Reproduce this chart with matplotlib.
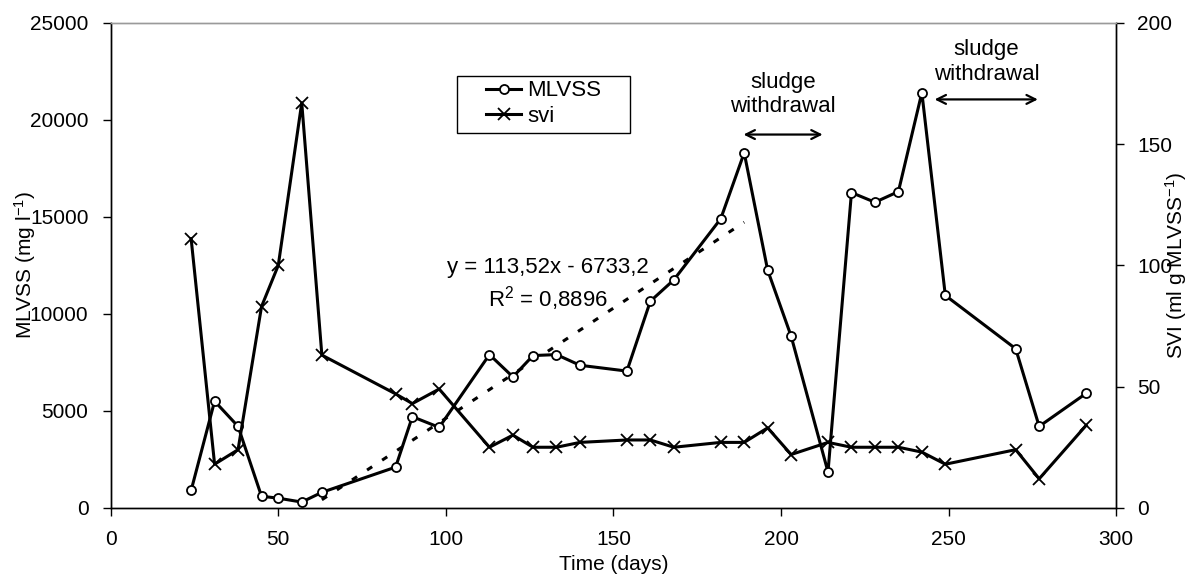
import matplotlib
matplotlib.use("Agg")
import matplotlib.pyplot as plt
from matplotlib.patches import Rectangle

plt.rcParams['font.family'] = ['Liberation Sans', 'DejaVu Sans']
plt.rcParams['mathtext.default'] = 'regular'

# ---------------- data ----------------
days = [24, 31, 38, 45, 50, 57, 63, 85, 90, 98, 113, 120, 126, 133, 140, 154,
        161, 168, 182, 189, 196, 203, 214, 221, 228, 235, 242, 249, 270, 277, 291]
mlvss = [900, 5500, 4200, 600, 500, 300, 800, 2100, 4700, 4150, 7900, 6750,
         7850, 7900, 7350, 7050, 10650, 11750, 14900, 18300, 12250, 8850, 1850,
         16250, 15750, 16300, 21400, 10950, 8200, 4200, 5900]
svi = [111, 18, 24, 83, 100, 167, 63, 47, 43, 49, 25, 30, 25, 25, 27, 28, 28,
       25, 27, 27, 33, 22, 27, 25, 25, 25, 23, 18, 24, 12, 34]

trend_slope = 113.52
trend_intercept = -6733.2
trend_x = [63, 189]
trend_label = "y = 113,52x - 6733,2"
r2_label = "R$^2$ = 0,8896"

x_ticks = [0, 50, 100, 150, 200, 250, 300]
left_ticks = [0, 5000, 10000, 15000, 20000, 25000]
right_ticks = [0, 50, 100, 150, 200]

withdrawal_1 = (188.8, 212.4)
withdrawal_2 = (245.8, 276.6)

# ---------------- figure ----------------
fig = plt.figure(figsize=(11.94, 5.78), dpi=100)
ax = fig.add_axes([0.0927, 0.1213, 0.9349 - 0.0927, 0.9606 - 0.1213])
ax2 = ax.twinx()

FS = 15
FS_T = 16
lw = 2.2

l1, = ax.plot(days, mlvss, color='black', lw=lw, marker='o', ms=6.5,
              mfc='white', mec='black', mew=1.3, label='MLVSS', zorder=3)
l2, = ax2.plot(days, svi, color='black', lw=lw, marker='x', ms=8,
               mec='black', mew=1.3, label='svi', zorder=3)

ty = [trend_slope * x + trend_intercept for x in trend_x]
ax.plot(trend_x, ty, color='black', lw=2.2, linestyle=(0, (2.0, 3.9)), zorder=2)

ax.set_xlim(0, 300)
ax.set_ylim(0, 25000)
ax2.set_ylim(0, 200)
ax.set_xticks(x_ticks)
ax.set_yticks(left_ticks)
ax2.set_yticks(right_ticks)

for a in (ax, ax2):
    for s in a.spines.values():
        s.set_linewidth(1.0)
ax.spines['top'].set_color('#9a9a9a')
ax2.spines['top'].set_color('#9a9a9a')
ax.spines['left'].set_color('black')
ax.spines['bottom'].set_color('black')
ax2.spines['right'].set_color('black')

ax.tick_params(axis='both', direction='out', length=6, width=1.0,
               labelsize=FS, colors='black')
ax.tick_params(axis='x', pad=10)
ax.tick_params(axis='y', pad=10)
ax2.tick_params(axis='y', direction='out', length=6, width=1.0,
                labelsize=FS, pad=9)

ax.set_xlabel("Time (days)", fontsize=FS)
ax.xaxis.set_label_coords(0.5, -0.116)
ax.xaxis.label.set_va('center')
ax.set_ylabel("MLVSS (mg l$^{-1}$)", fontsize=FS)
ax.yaxis.set_label_coords(-0.0852, 0.5)
ax.yaxis.label.set_va('center')
ax2.set_ylabel("SVI (ml g MLVSS$^{-1}$)", fontsize=FS)
ax2.yaxis.set_label_coords(1.0596, 0.5)
ax2.yaxis.label.set_va('center')

ax.text(130.5, 12400, trend_label, fontsize=FS_T, ha='center', va='center')
ax.text(130.5, 10780, r2_label, fontsize=FS_T, ha='center', va='center')

# sludge withdrawal annotations
ax.text(sum(withdrawal_1) / 2, 21900, "sludge", fontsize=FS_T, ha='center', va='center')
ax.text(sum(withdrawal_1) / 2, 20700, "withdrawal", fontsize=FS_T, ha='center', va='center')
ax.annotate("", xy=(withdrawal_1[0], 19240), xytext=(withdrawal_1[1], 19240),
            arrowprops=dict(arrowstyle='<->', lw=1.6, color='black',
                            mutation_scale=16, shrinkA=0, shrinkB=0))
ax.text(261.3, 23640, "sludge", fontsize=FS_T, ha='center', va='center')
ax.text(261.3, 22340, "withdrawal", fontsize=FS_T, ha='center', va='center')
ax.annotate("", xy=(withdrawal_2[0], 21050), xytext=(withdrawal_2[1], 21050),
            arrowprops=dict(arrowstyle='<->', lw=1.6, color='black',
                            mutation_scale=16, shrinkA=0, shrinkB=0))

# legend
leg = ax2.legend(handles=[l1, l2], loc='center left',
                 bbox_to_anchor=(0.373, 0.833), frameon=False, fontsize=FS_T,
                 borderpad=0, borderaxespad=0, handlelength=1.6,
                 handletextpad=0.25, labelspacing=0.22)
ax2.add_patch(Rectangle((0.344, 0.773), 0.516 - 0.344, 0.891 - 0.773,
                        transform=ax2.transAxes, fill=False, edgecolor='black',
                        lw=1.0, zorder=5))

fig.savefig("out.png", dpi=100)
